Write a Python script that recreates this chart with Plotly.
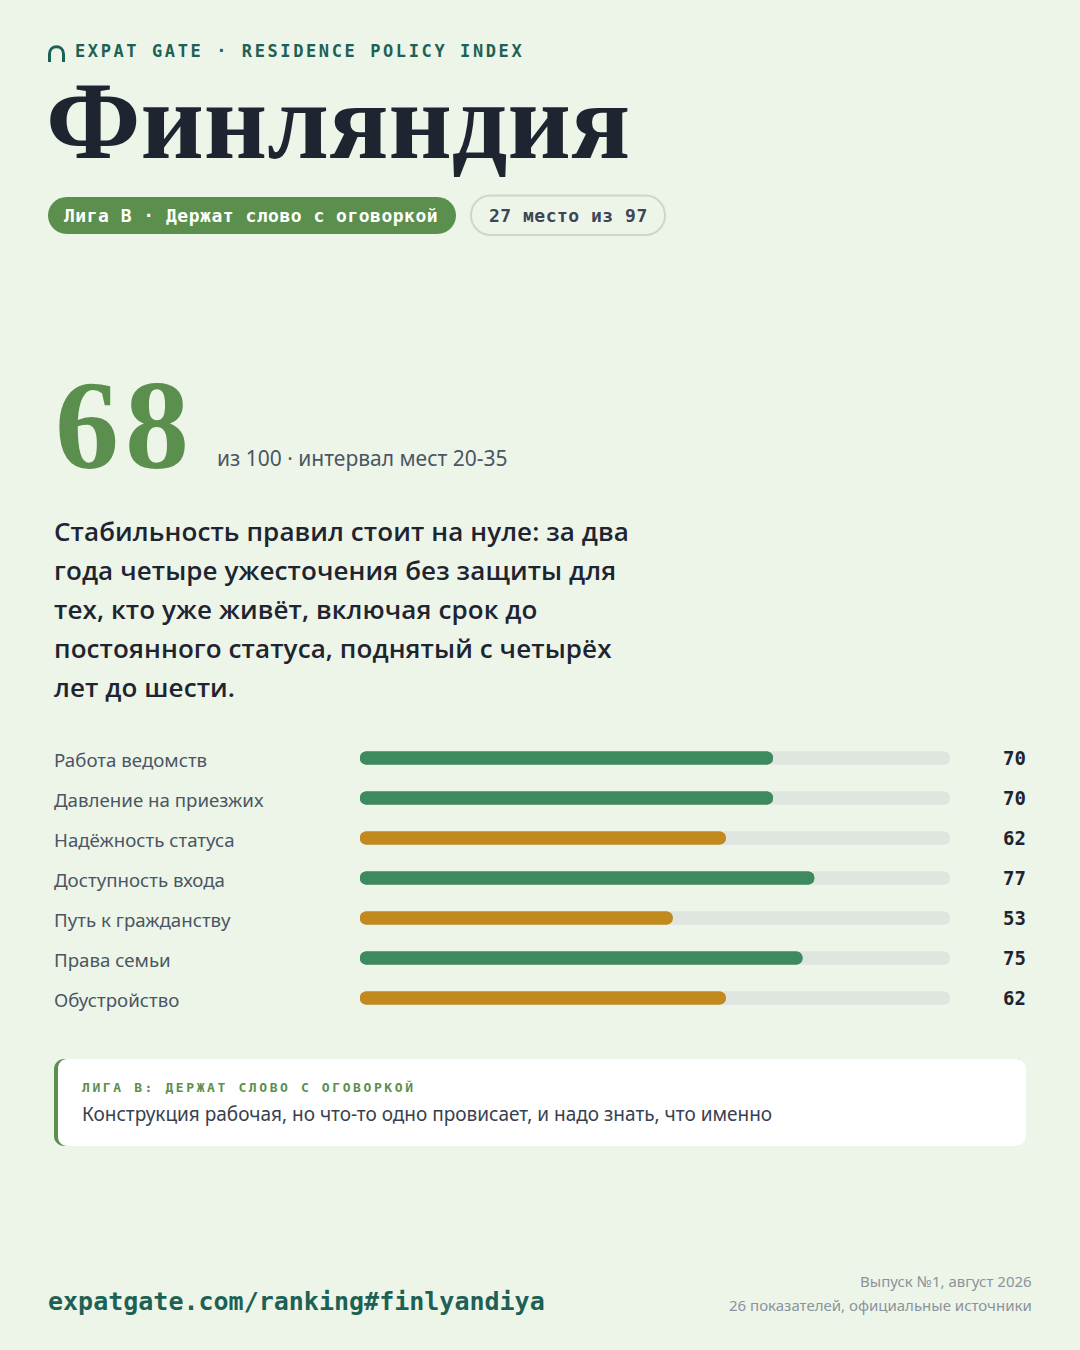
import plotly.graph_objects as go

W, H = 1080, 1350

# --- data ---
brand = "EXPAT GATE · RESIDENCE POLICY INDEX"
country = "Финляндия"
league = "Лига B · Держат слово с оговоркой"
rank_text = "27 место из 97"
total_score = 68
score_note = "из 100 · интервал мест 20-35"
summary_lines = [
    "Стабильность правил стоит на нуле: за два",
    "года четыре ужесточения без защиты для",
    "тех, кто уже живёт, включая срок до",
    "постоянного статуса, поднятый с четырёх",
    "лет до шести.",
]
categories = [
    "Работа ведомств",
    "Давление на приезжих",
    "Надёжность статуса",
    "Доступность входа",
    "Путь к гражданству",
    "Права семьи",
    "Обустройство",
]
scores = [70, 70, 62, 77, 53, 75, 62]
score_max = 100
callout_title = "ЛИГА B: ДЕРЖАТ СЛОВО С ОГОВОРКОЙ"
callout_text = "Конструкция рабочая, но что-то одно провисает, и надо знать, что именно"
footer_url = "expatgate.com/ranking#finlyandiya"
footer_notes = ["Выпуск №1, август 2026", "26 показателей, официальные источники"]

# --- colours ---
BG = "#edf5e9"
INK = "#1e2430"
TEAL = "#1d6155"
LEAF = "#5b8f4e"
GREEN = "#3d8a5f"
GOLD = "#c28a1e"
TRACK = "#dfe5df"
GREY = "#4b5563"
MUTED = "#8a939b"

SANS = "Noto Sans"
MONO = "DejaVu Sans Mono"
SERIF = "Liberation Serif"


def px(x):
    return x / W


def py(y):
    return 1 - y / H


def rounded_rect(x0, y0, x1, y1, r):
    k = 0.5523 * r
    pts = [
        ("M", [(x0 + r, y0)]),
        ("L", [(x1 - r, y0)]),
        ("C", [(x1 - r + k, y0), (x1, y0 + r - k), (x1, y0 + r)]),
        ("L", [(x1, y1 - r)]),
        ("C", [(x1, y1 - r + k), (x1 - r + k, y1), (x1 - r, y1)]),
        ("L", [(x0 + r, y1)]),
        ("C", [(x0 + r - k, y1), (x0, y1 - r + k), (x0, y1 - r)]),
        ("L", [(x0, y0 + r)]),
        ("C", [(x0, y0 + r - k), (x0 + r - k, y0), (x0 + r, y0)]),
    ]
    out = []
    for cmd, coords in pts:
        out.append(cmd + " ".join(f"{px(a):.5f},{py(b):.5f}" for a, b in coords))
    return " ".join(out) + " Z"


def text(x, y, s, size, color, family=SANS, weight="normal", anchor="left", spacing=None):
    if spacing:
        s = f"<span style='letter-spacing:{spacing}px'>{s}</span>"
    return dict(x=px(x), y=py(y), xref="paper", yref="paper", text=s,
                showarrow=False, xanchor=anchor, yanchor="middle",
                font=dict(family=family, size=size, color=color, weight=weight))


fig = go.Figure()

# bar tracks and values; each drawn twice (from both ends) so both caps are rounded
track = [score_max] * len(categories)
bar_colors = [GREEN if s >= 65 else GOLD for s in scores]
bar_w = 0.33
for xs, base, col in [
    (track, 0, TRACK),
    ([-v for v in track], track, TRACK),
    (scores, 0, bar_colors),
    ([-s for s in scores], scores, bar_colors),
]:
    fig.add_trace(go.Bar(
        y=categories, x=xs, base=base, orientation="h", width=bar_w,
        marker=dict(color=col, cornerradius="50%", line=dict(width=0)),
        hoverinfo="skip", showlegend=False,
    ))

rows_top, rows_bottom = 738, 1018
fig.update_layout(
    width=W, height=H,
    margin=dict(l=0, r=0, t=0, b=0),
    paper_bgcolor=BG, plot_bgcolor="rgba(0,0,0,0)",
    barmode="overlay",
    xaxis=dict(domain=[px(360), px(950)], range=[0, score_max], visible=False, fixedrange=True),
    yaxis=dict(domain=[py(rows_bottom), py(rows_top)], type="category",
               categoryorder="array", categoryarray=categories,
               range=[len(categories) - 0.5, -0.5], visible=False, fixedrange=True),
)

shapes = []
# brand arch icon
shapes.append(dict(
    type="path", xref="paper", yref="paper",
    path=(f"M{px(49.5):.5f},{py(62):.5f} L{px(49.5):.5f},{py(54):.5f} "
          f"C{px(49.5):.5f},{py(44.5):.5f} {px(63.5):.5f},{py(44.5):.5f} {px(63.5):.5f},{py(54):.5f} "
          f"L{px(63.5):.5f},{py(62):.5f}"),
    line=dict(color=TEAL, width=3), fillcolor="rgba(0,0,0,0)",
))
# league pill
shapes.append(dict(type="path", xref="paper", yref="paper", layer="below",
                   path=rounded_rect(48, 197, 456, 234, 18.5),
                   fillcolor=LEAF, line=dict(width=0)))
# rank pill
shapes.append(dict(type="path", xref="paper", yref="paper", layer="below",
                   path=rounded_rect(471, 195.5, 665, 235, 19.5),
                   fillcolor="rgba(0,0,0,0)", line=dict(color="#cdd6ca", width=2)))
# callout box
shapes.append(dict(type="path", xref="paper", yref="paper", layer="below",
                   path=rounded_rect(54, 1059, 1026, 1146, 10),
                   fillcolor=LEAF, line=dict(width=0)))
shapes.append(dict(type="path", xref="paper", yref="paper", layer="below",
                   path=rounded_rect(58, 1059, 1026, 1146, 9),
                   fillcolor="#ffffff", line=dict(width=0)))
fig.update_layout(shapes=shapes)

ann = []
ann.append(text(73, 51, brand, 17, TEAL, MONO, "bold", spacing=2.6))
ann.append(text(44, 121, country, 110, INK, SERIF, "bold"))
ann.append(text(62, 215.5, league, 18, "#ffffff", MONO, "bold", spacing=0.5))
ann.append(text(487, 215.5, rank_text, 18, "#3d4656", MONO, "bold", spacing=0.5))
ann.append(text(53, 425, str(total_score), 128, LEAF, SERIF, "bold", spacing=6))
ann.append(text(215, 458, score_note, 21, GREY))
for i, line in enumerate(summary_lines):
    ann.append(text(52, 531 + 39 * i, line, 26, INK, "Open Sans", 600, spacing=0.1))
for cat, s in zip(categories, scores):
    ann.append(dict(x=px(52), y=cat, xref="paper", yref="y", text=cat, showarrow=False,
                    xanchor="left", yanchor="middle", yshift=-1,
                    font=dict(family=SANS, size=18.7, color=GREY)))
    ann.append(dict(x=px(1028), y=cat, xref="paper", yref="y", text=str(s), showarrow=False,
                    xanchor="right", yanchor="middle",
                    font=dict(family=MONO, size=19, color=INK, weight="bold")))
ann.append(text(80, 1087, callout_title, 13, LEAF, MONO, "bold", spacing=2.6))
ann.append(text(80, 1114, callout_text, 19, "#374151"))
ann.append(text(46, 1301, footer_url, 25, TEAL, MONO, "bold"))
for i, note in enumerate(footer_notes):
    ann.append(text(1034, 1281 + 24 * i, note, 15, MUTED, anchor="right"))
fig.update_layout(annotations=ann)

fig.write_html(
    "out.html",
    config={"displayModeBar": False},
    post_script=f"document.body.style.margin='0';document.documentElement.style.background='{BG}';",
)
